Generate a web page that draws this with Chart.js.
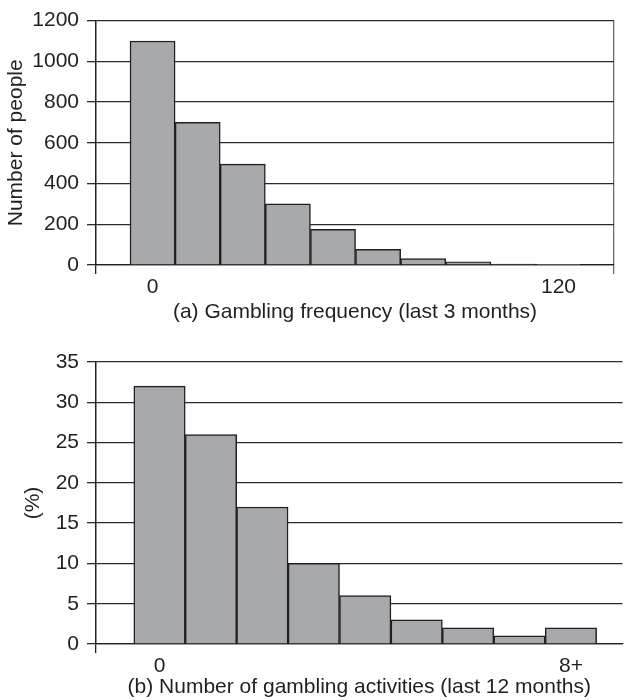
<!DOCTYPE html>
<html>
<head>
<meta charset="utf-8">
<script src="https://cdn.jsdelivr.net/npm/chart.js@4"></script>
<style>
  body { margin: 0; background: #fff; }
  .panel { position: absolute; left: 0; width: 625px; overflow: hidden; }
  #topPanel { top: 0; height: 326px; }
  #bottomPanel { top: 326px; height: 374px; }
</style>
</head>
<body>
<div class="panel" id="topPanel"><canvas id="freqChart" width="625" height="326"></canvas></div>
<div class="panel" id="bottomPanel"><canvas id="activityChart" width="625" height="374"></canvas></div>
<script>
// (a) gambling frequency, last 3 months
const freqLabels = ['0', '', '', '', '', '', '', '', '', '120'];
const freqCounts = [1100, 700, 495, 300, 175, 77, 32, 15, 4, 3];
const freqMax = 1200;
const freqStep = 200;

// (b) number of gambling activities, last 12 months
const actLabels = ['0', '', '', '', '', '', '', '', '8+'];
const actPercent = [32, 26, 17, 10, 6, 3, 2, 1, 2];
const actMax = 35;
const actStep = 5;

const ink = '#231f20';
const barFill = '#a7a9ac';
Chart.defaults.font.family = '"Liberation Sans", Arial, sans-serif';
Chart.defaults.font.size = 21;
Chart.defaults.color = ink;

function histogram(canvasId, labels, values, cfg) {
    const xMin = cfg.xMin;
    const xMax = cfg.xMax;
    return new Chart(document.getElementById(canvasId), {
        type: 'bar',
        data: {
            datasets: [{
                data: values.map((v, i) => ({ x: i + 0.5, y: v })),
                backgroundColor: barFill,
                borderColor: ink,
                borderWidth: 1.5,
                barPercentage: 1,
                categoryPercentage: 1
            }]
        },
        options: {
            responsive: false,
            animation: false,
            layout: { padding: cfg.padding },
            plugins: { legend: { display: false }, tooltip: { enabled: false } },
            scales: {
                x: {
                    type: 'linear',
                    offset: false,
                    min: xMin,
                    max: xMax,
                    afterBuildTicks: (scale) => {
                        const t = [{ value: xMin }];
                        labels.forEach((l, i) => t.push({ value: i + 0.5 }));
                        t.push({ value: xMax });
                        scale.ticks = t;
                    },
                    ticks: {
                        autoSkip: false,
                        maxRotation: 0,
                        padding: 2.5,
                        font: { lineHeight: 1 },
                        callback: (v) => {
                            const i = v - 0.5;
                            return Number.isInteger(i) && labels[i] ? labels[i] : '';
                        }
                    },
                    grid: {
                        offset: false,
                        tickLength: 9,
                        lineWidth: 1.3,
                        color: (ctx) => {
                            if (!ctx.tick) return 'rgba(0,0,0,0)';
                            if (ctx.tick.value === xMin) return ink;
                            if (ctx.tick.value === xMax && cfg.rightEdge) return '#6d6d6d';
                            return 'rgba(0,0,0,0)';
                        }
                    },
                    border: { color: ink, width: 1.3 },
                    title: {
                        display: true,
                        text: cfg.xTitle,
                        font: { lineHeight: 1 },
                        padding: { top: 0, bottom: cfg.xTitleBottom }
                    },
                    afterFit: (scale) => { scale.height = cfg.xHeight; }
                },
                y: {
                    min: 0,
                    max: cfg.yMax,
                    ticks: { stepSize: cfg.yStep, padding: 8, callback: (v) => String(v) },
                    grid: { color: '#2b2b2b', lineWidth: 1.3, tickLength: 9 },
                    border: { color: ink, width: 1.3 },
                    title: {
                        display: true,
                        text: cfg.yTitle,
                        padding: { top: cfg.yTitleLeft, bottom: 0 }
                    },
                    afterFit: (scale) => { scale.width = cfg.yWidth; }
                }
            }
        }
    });
}

histogram('freqChart', freqLabels, freqCounts, {
    xMin: -0.754, xMax: 10.73,
    yMax: freqMax, yStep: freqStep,
    xTitle: '(a) Gambling frequency (last 3 months)',
    yTitle: 'Number of people',
    padding: { top: 17, right: 11, bottom: 0, left: 0 },
    xTitleBottom: 3,
    xHeight: 61,
    yTitleLeft: 3.4,
    yWidth: 96,
    rightEdge: true
});

histogram('activityChart', actLabels, actPercent, {
    xMin: -0.735, xMax: 9.503,
    yMax: actMax, yStep: actStep,
    xTitle: '(b) Number of gambling activities (last 12 months)',
    yTitle: '(%)',
    padding: { top: 36, right: 0, bottom: 0, left: 0 },
    xTitleBottom: 2,
    xHeight: 56,
    yTitleLeft: 20.4,
    yWidth: 96,
    rightEdge: false
});
</script>
</body>
</html>
